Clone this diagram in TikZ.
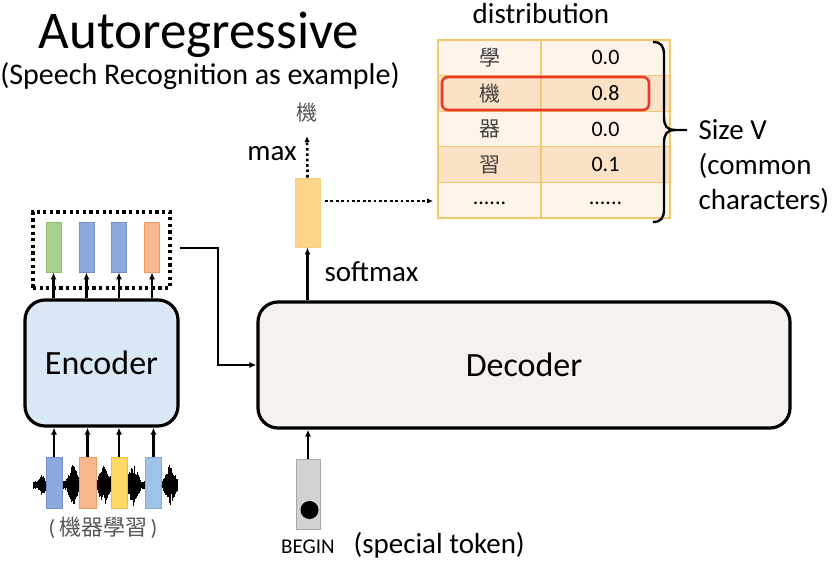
\documentclass[tikz,border=0pt]{standalone}
\usepackage{fontspec}
\setmainfont{Carlito}
\newfontfamily\cjk{Noto Sans CJK TC}
\usetikzlibrary{arrows.meta}
\definecolor{encfill}{HTML}{DAE7F4}
\definecolor{decfill}{HTML}{F6F1EC}
\definecolor{vgreen}{HTML}{A9D18E}
\definecolor{vgreenb}{HTML}{8DBE6C}
\definecolor{vblue}{HTML}{8EA9DB}
\definecolor{vblueb}{HTML}{7490CC}
\definecolor{vlblue}{HTML}{9DC3E6}
\definecolor{vlblueb}{HTML}{7FAEDC}
\definecolor{vorange}{HTML}{F8B88E}
\definecolor{vorangeb}{HTML}{F29A62}
\definecolor{vyellow}{HTML}{FFD966}
\definecolor{vyellowb}{HTML}{F2C040}
\definecolor{outvec}{HTML}{FDD58A}
\definecolor{outvecb}{HTML}{F9CF7A}
\definecolor{tabline}{HTML}{F3C76E}
\definecolor{rowlight}{HTML}{FEF4EA}
\definecolor{rowdark}{HTML}{FBE1C5}
\definecolor{redbox}{HTML}{EA3A2A}
\definecolor{tokfill}{HTML}{D2D2D2}
\definecolor{tokline}{HTML}{A8A8A8}
\definecolor{cjkgray}{HTML}{555555}
\begin{document}
\begin{tikzpicture}[x=1pt,y=-1pt,
  arr/.style={-{Latex[length=7pt,width=6pt]}, line width=2.2pt},
  dotarr/.style={-{Latex[length=6pt,width=5.5pt]}, line width=2.7pt, dash pattern=on 2.7pt off 2.7pt},
  vecbox/.style={draw, line width=0.8pt, minimum width=15pt, minimum height=50pt, inner sep=0pt},
  block/.style={draw, line width=3.2pt, rounded corners=20pt, inner sep=0pt},
  cell/.style={draw=tabline, line width=1.2pt, minimum height=35.6pt, inner sep=0pt},
  lab/.style={font=\fontsize{29}{32}\selectfont},
  cjklab/.style={font=\cjk\fontsize{21}{24}\selectfont, text=cjkgray},
  numlab/.style={font=\fontsize{22}{24}\selectfont}]
\useasboundingbox (0,0) rectangle (834,561);

% titles
\node[font=\fontsize{53}{56}\selectfont, anchor=base] (title) at (199,49) {Autoregressive};
\node[font=\fontsize{30}{32}\selectfont, anchor=base] (subtitle) at (200,85) {(Speech Recognition as example)};

% distribution table
\node[lab, anchor=base] (dist) at (541,24) {distribution};
\foreach \r/\fc in {1/rowlight, 2/rowdark, 3/rowlight, 4/rowdark, 5/rowlight} {
  \pgfmathsetmacro\yy{40+35.6*(\r-0.5)}
  \node[cell, fill=\fc, minimum width=103pt] (c\r a) at (489.5,\yy) {};
  \node[cell, fill=\fc, minimum width=129pt] (c\r b) at (605.5,\yy) {};
}
\foreach \r/\ch/\v in {1/學/0.0, 2/機/0.8, 3/器/0.0, 4/習/0.1} {
  \node[cjklab, text=black!75] at (c\r a) {\ch};
  \node[numlab] at (c\r b) {\v};
}
\node[numlab, yshift=-3pt] at (c5a) {......};
\node[numlab, yshift=-3pt] at (c5b) {......};
\draw[redbox, line width=2.6pt, rounded corners=6pt] (442,77) rectangle (649,110);

% brace
\draw[line width=2.4pt] (653,42) .. controls (661,42) and (664,46) .. (664,55) -- (664,117)
  .. controls (664,126) and (667,130) .. (675,130) -- (687,130);
\draw[line width=2.4pt] (675,130) .. controls (667,130) and (664,134) .. (664,143) -- (664,209)
  .. controls (664,218) and (661,222) .. (653,222);
\node[lab, anchor=base west] (sizev) at (695,140) {Size V};
\node[lab, anchor=base west] (common) at (695,175) {(common};
\node[lab, anchor=base west] (chars) at (695,210) {characters)};

% output vector
\node[vecbox, fill=outvec, draw=outvecb, minimum width=25pt, minimum height=69pt] (out) at (307.5,212.5) {};
\node[font=\cjk\fontsize{21}{24}\selectfont, text=cjkgray] (ji) at (307,113) {機};
\coordinate (jiarr) at (307,136);
\draw[dotarr] (out.north) -- (jiarr);
\node[lab, anchor=base] (max) at (272,161) {max};
\coordinate (tabin) at (433,201);
\coordinate (outr) at (325,201);
\draw[dotarr] (outr) -- (tabin);

% decoder
\node[block, fill=decfill, minimum width=532pt, minimum height=126pt] (dec) at (524,365) {};
\node[font=\fontsize{34}{36}\selectfont] at (dec) {Decoder};
\draw[arr] (out.south |- dec.north) -- (out.south);
\node[lab, anchor=base west] (softmax) at (321,281) {softmax};

% encoder
\node[block, fill=encfill, minimum width=153pt, minimum height=126pt] (enc) at (101.5,363) {};
\node[font=\fontsize{34}{36}\selectfont] at (enc) {Encoder};

% encoder outputs
\node[draw, line width=3.2pt, dash pattern=on 3.2pt off 3.4pt, minimum width=137pt, minimum height=76pt, inner sep=0pt] (dotbox) at (101.5,250) {};
\node[vecbox, fill=vgreen, draw=vgreenb] (e1) at (53.5,247) {};
\node[vecbox, fill=vblue, draw=vblueb] (e2) at (86.5,247) {};
\node[vecbox, fill=vblue, draw=vblueb] (e3) at (119,247) {};
\node[vecbox, fill=vorange, draw=vorangeb] (e4) at (152,247) {};
\foreach \i in {1,...,4} {
  \draw[arr] (e\i.south |- enc.north) -- (e\i.south);
}

% connector encoder -> decoder
\coordinate (k0) at (180,248);
\coordinate (k1) at (218,248);
\draw[arr] (k0) -- (k1) |- (dec.west);

% waveform
\pgfmathsetseed{11}
\foreach \i in {0,...,480} {
  \pgfmathsetmacro\xx{33+\i*0.3}
  \pgfmathsetmacro\env{3+18*(max(0,1-abs(\xx-73)/8)+max(0,1-abs(\xx-104)/8)+max(0,1-abs(\xx-133)/8)+max(0,1-abs(\xx-170)/8))+8*max(0,1-abs(\xx-42)/5)}
  \pgfmathsetmacro\aa{0.8+\env*sqrt(rnd)}
  \pgfmathsetmacro\bb{0.8+\env*sqrt(rnd)}
  \draw[line width=0.45pt] (\xx,485-\aa) -- (\xx,485+\bb);
}
\draw[line width=1.2pt] (33,485) -- (178,485);

% input vectors
\node[vecbox, fill=vblue, draw=vblueb, minimum width=16pt, minimum height=51pt] (i1) at (54,482.5) {};
\node[vecbox, fill=vorange, draw=vorangeb, minimum width=17pt, minimum height=51pt] (i2) at (87.5,482.5) {};
\node[vecbox, fill=vyellow, draw=vyellowb, minimum width=16pt, minimum height=51pt] (i3) at (119,482.5) {};
\node[vecbox, fill=vlblue, draw=vlblueb, minimum width=16pt, minimum height=51pt] (i4) at (153.5,482.5) {};
\foreach \i in {1,...,4} {
  \draw[arr] (i\i.north) -- (i\i.north |- enc.south);
}
\node[font=\fontsize{22}{24}\selectfont, text=cjkgray] (speech) at (103,528) {(\,{\cjk 機器學習}\,)};

% BEGIN token
\node[draw=tokline, fill=tokfill, line width=0.8pt, minimum width=24pt, minimum height=70pt, inner sep=0pt] (tok) at (308,494) {};
\node[circle, fill=black, minimum size=18pt, inner sep=0pt] (dot) at (309.5,510) {};
\draw[arr] (tok.north) -- (tok.north |- dec.south);
\node[font=\fontsize{21}{24}\selectfont, anchor=base] (begin) at (308,553) {BEGIN};
\node[font=\fontsize{29}{31}\selectfont, anchor=base west] (special) at (350,553) {(special token)};
\end{tikzpicture}
\end{document}
